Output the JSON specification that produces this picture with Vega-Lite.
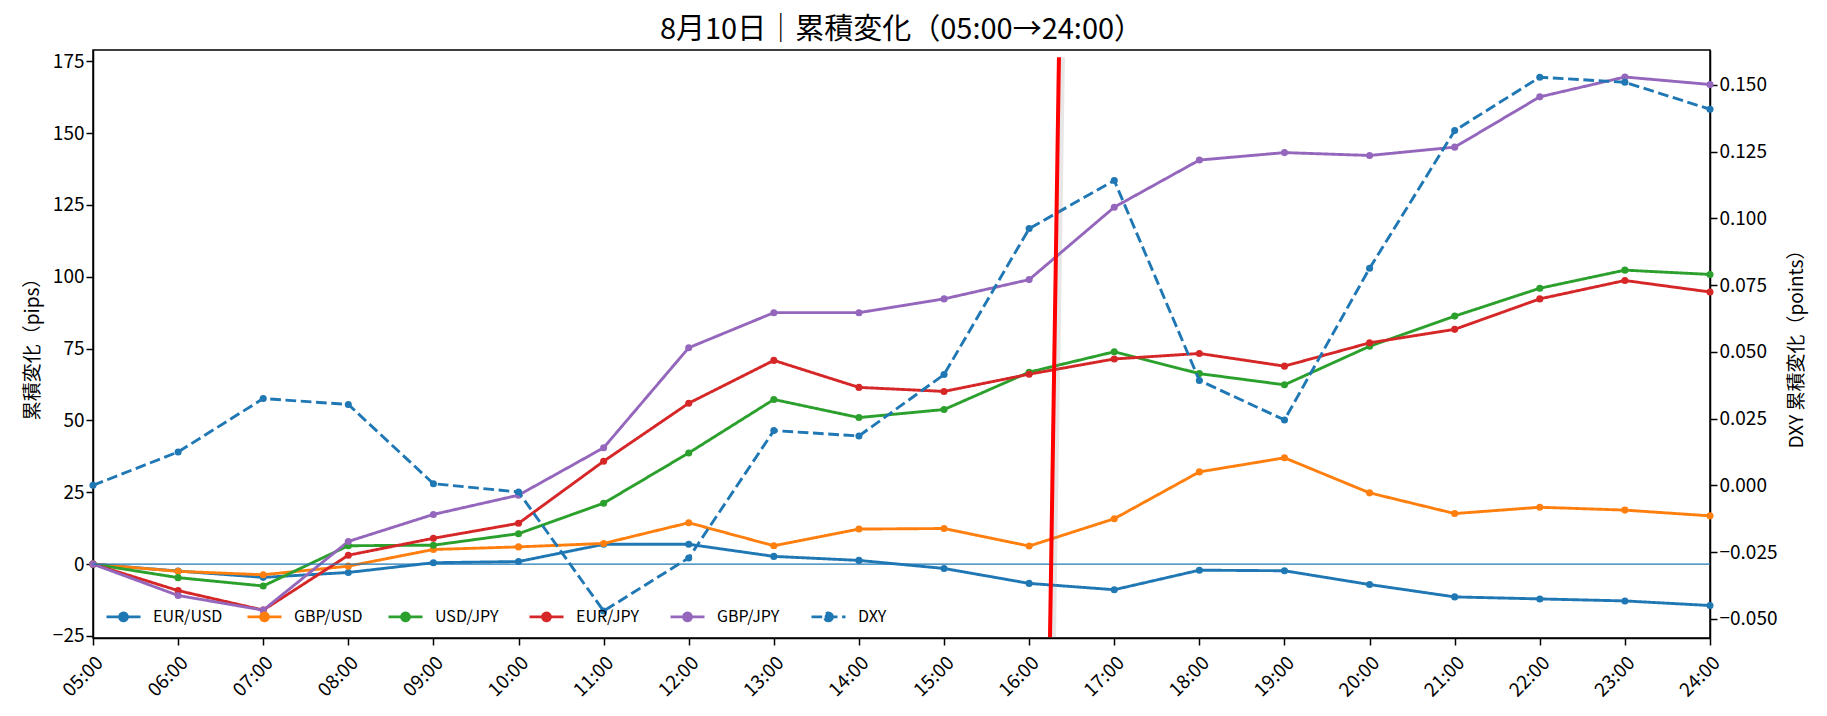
{
  "$schema": "https://vega.github.io/schema/vega-lite/v6.json",
  "autosize": {"type": "none"},
  "width": 1617,
  "height": 588,
  "padding": {"left": 93, "top": 50, "right": 117, "bottom": 78},
  "background": "white",
  "title": {"text": "8月10日｜累積変化（05:00→24:00）", "fontSize": 29, "font": "Noto Sans CJK JP", "fontWeight": "normal", "color": "black", "anchor": "middle", "offset": 5},
  "config": {
    "font": "Noto Sans CJK JP",
    "view": {"stroke": "black", "strokeWidth": 1.5},
    "axis": {"grid": false, "domainColor": "black", "domainWidth": 1.5, "tickColor": "black", "tickWidth": 1.5, "tickSize": 7, "labelFont": "Noto Sans CJK JP", "labelFontSize": 19, "labelColor": "black", "titleFont": "Noto Sans CJK JP", "titleFontSize": 19, "titleColor": "black", "titleFontWeight": "normal"},
    "legend": {"orient": "none", "legendX": 12, "legendY": 548, "direction": "horizontal", "columns": 6, "gridAlign": "all", "columnPadding": 18, "symbolType": "M-1,0H1M0.23,0A0.23,0.23,0,1,1,-0.23,0A0.23,0.23,0,1,1,0.23,0Z", "symbolSize": 1156, "symbolStrokeWidth": 2.9, "labelFont": "Noto Sans CJK JP", "labelFontSize": 16, "labelColor": "black", "labelOffset": 11}
  },
  "datasets": {
    "series": [
      {"t": 5, "s": "EUR/USD", "v": 0}, {"t": 6, "s": "EUR/USD", "v": -2.4}, {"t": 7, "s": "EUR/USD", "v": -4.6}, {"t": 8, "s": "EUR/USD", "v": -2.9}, {"t": 9, "s": "EUR/USD", "v": 0.5}, {"t": 10, "s": "EUR/USD", "v": 0.9}, {"t": 11, "s": "EUR/USD", "v": 6.9}, {"t": 12, "s": "EUR/USD", "v": 6.9}, {"t": 13, "s": "EUR/USD", "v": 2.7}, {"t": 14, "s": "EUR/USD", "v": 1.3}, {"t": 15, "s": "EUR/USD", "v": -1.5}, {"t": 16, "s": "EUR/USD", "v": -6.7}, {"t": 17, "s": "EUR/USD", "v": -8.9}, {"t": 18, "s": "EUR/USD", "v": -2.1}, {"t": 19, "s": "EUR/USD", "v": -2.3}, {"t": 20, "s": "EUR/USD", "v": -7.1}, {"t": 21, "s": "EUR/USD", "v": -11.4}, {"t": 22, "s": "EUR/USD", "v": -12.1}, {"t": 23, "s": "EUR/USD", "v": -12.8}, {"t": 24, "s": "EUR/USD", "v": -14.4},
      {"t": 5, "s": "GBP/USD", "v": 0}, {"t": 6, "s": "GBP/USD", "v": -2.5}, {"t": 7, "s": "GBP/USD", "v": -3.7}, {"t": 8, "s": "GBP/USD", "v": -0.7}, {"t": 9, "s": "GBP/USD", "v": 5.1}, {"t": 10, "s": "GBP/USD", "v": 6.0}, {"t": 11, "s": "GBP/USD", "v": 7.2}, {"t": 12, "s": "GBP/USD", "v": 14.4}, {"t": 13, "s": "GBP/USD", "v": 6.4}, {"t": 14, "s": "GBP/USD", "v": 12.2}, {"t": 15, "s": "GBP/USD", "v": 12.4}, {"t": 16, "s": "GBP/USD", "v": 6.3}, {"t": 17, "s": "GBP/USD", "v": 15.8}, {"t": 18, "s": "GBP/USD", "v": 32.1}, {"t": 19, "s": "GBP/USD", "v": 37.0}, {"t": 20, "s": "GBP/USD", "v": 24.8}, {"t": 21, "s": "GBP/USD", "v": 17.6}, {"t": 22, "s": "GBP/USD", "v": 19.8}, {"t": 23, "s": "GBP/USD", "v": 18.8}, {"t": 24, "s": "GBP/USD", "v": 16.8},
      {"t": 5, "s": "USD/JPY", "v": 0}, {"t": 6, "s": "USD/JPY", "v": -4.7}, {"t": 7, "s": "USD/JPY", "v": -7.6}, {"t": 8, "s": "USD/JPY", "v": 6.4}, {"t": 9, "s": "USD/JPY", "v": 6.6}, {"t": 10, "s": "USD/JPY", "v": 10.6}, {"t": 11, "s": "USD/JPY", "v": 21.2}, {"t": 12, "s": "USD/JPY", "v": 38.7}, {"t": 13, "s": "USD/JPY", "v": 57.3}, {"t": 14, "s": "USD/JPY", "v": 51.0}, {"t": 15, "s": "USD/JPY", "v": 53.8}, {"t": 16, "s": "USD/JPY", "v": 66.8}, {"t": 17, "s": "USD/JPY", "v": 73.9}, {"t": 18, "s": "USD/JPY", "v": 66.3}, {"t": 19, "s": "USD/JPY", "v": 62.4}, {"t": 20, "s": "USD/JPY", "v": 75.8}, {"t": 21, "s": "USD/JPY", "v": 86.3}, {"t": 22, "s": "USD/JPY", "v": 96.0}, {"t": 23, "s": "USD/JPY", "v": 102.3}, {"t": 24, "s": "USD/JPY", "v": 100.8},
      {"t": 5, "s": "EUR/JPY", "v": 0}, {"t": 6, "s": "EUR/JPY", "v": -9.2}, {"t": 7, "s": "EUR/JPY", "v": -16.0}, {"t": 8, "s": "EUR/JPY", "v": 3.1}, {"t": 9, "s": "EUR/JPY", "v": 9.0}, {"t": 10, "s": "EUR/JPY", "v": 14.2}, {"t": 11, "s": "EUR/JPY", "v": 35.8}, {"t": 12, "s": "EUR/JPY", "v": 56.0}, {"t": 13, "s": "EUR/JPY", "v": 70.9}, {"t": 14, "s": "EUR/JPY", "v": 61.5}, {"t": 15, "s": "EUR/JPY", "v": 60.1}, {"t": 16, "s": "EUR/JPY", "v": 66.1}, {"t": 17, "s": "EUR/JPY", "v": 71.4}, {"t": 18, "s": "EUR/JPY", "v": 73.3}, {"t": 19, "s": "EUR/JPY", "v": 68.9}, {"t": 20, "s": "EUR/JPY", "v": 77.0}, {"t": 21, "s": "EUR/JPY", "v": 81.7}, {"t": 22, "s": "EUR/JPY", "v": 92.3}, {"t": 23, "s": "EUR/JPY", "v": 98.7}, {"t": 24, "s": "EUR/JPY", "v": 94.7},
      {"t": 5, "s": "GBP/JPY", "v": 0}, {"t": 6, "s": "GBP/JPY", "v": -10.9}, {"t": 7, "s": "GBP/JPY", "v": -16.0}, {"t": 8, "s": "GBP/JPY", "v": 7.9}, {"t": 9, "s": "GBP/JPY", "v": 17.3}, {"t": 10, "s": "GBP/JPY", "v": 24.0}, {"t": 11, "s": "GBP/JPY", "v": 40.5}, {"t": 12, "s": "GBP/JPY", "v": 75.3}, {"t": 13, "s": "GBP/JPY", "v": 87.5}, {"t": 14, "s": "GBP/JPY", "v": 87.5}, {"t": 15, "s": "GBP/JPY", "v": 92.3}, {"t": 16, "s": "GBP/JPY", "v": 99.0}, {"t": 17, "s": "GBP/JPY", "v": 124.2}, {"t": 18, "s": "GBP/JPY", "v": 140.6}, {"t": 19, "s": "GBP/JPY", "v": 143.2}, {"t": 20, "s": "GBP/JPY", "v": 142.2}, {"t": 21, "s": "GBP/JPY", "v": 145.1}, {"t": 22, "s": "GBP/JPY", "v": 162.6}, {"t": 23, "s": "GBP/JPY", "v": 169.5}, {"t": 24, "s": "GBP/JPY", "v": 166.9},
      {"t": 5, "s": "DXY", "v": 0}, {"t": 6, "s": "DXY", "v": 0.0125}, {"t": 7, "s": "DXY", "v": 0.0325}, {"t": 8, "s": "DXY", "v": 0.0303}, {"t": 9, "s": "DXY", "v": 0.0006}, {"t": 10, "s": "DXY", "v": -0.0025}, {"t": 11, "s": "DXY", "v": -0.0471}, {"t": 12, "s": "DXY", "v": -0.0272}, {"t": 13, "s": "DXY", "v": 0.0205}, {"t": 14, "s": "DXY", "v": 0.0185}, {"t": 15, "s": "DXY", "v": 0.0415}, {"t": 16, "s": "DXY", "v": 0.0962}, {"t": 17, "s": "DXY", "v": 0.1142}, {"t": 18, "s": "DXY", "v": 0.0393}, {"t": 19, "s": "DXY", "v": 0.0245}, {"t": 20, "s": "DXY", "v": 0.0813}, {"t": 21, "s": "DXY", "v": 0.1329}, {"t": 22, "s": "DXY", "v": 0.1529}, {"t": 23, "s": "DXY", "v": 0.1510}, {"t": 24, "s": "DXY", "v": 0.1409}
    ],
    "zero": [{"y": 0}],
    "marker": [{"xa": 16.35, "xb": 16.245, "ya": 176.4, "yb": -25.4, "xsa": 16.385, "xsb": 16.28}]
  },
  "layer": [
    {
      "layer": [
        {
          "data": {"name": "series"},
          "transform": [{"filter": "datum.s !== 'DXY'"}],
          "mark": {"type": "line", "strokeWidth": 2.9, "point": {"filled": true, "size": 50}},
          "encoding": {
            "x": {"field": "t", "type": "quantitative", "scale": {"domain": [5, 24], "nice": false, "zero": false}, "axis": {"values": [5, 6, 7, 8, 9, 10, 11, 12, 13, 14, 15, 16, 17, 18, 19, 20, 21, 22, 23, 24], "labelExpr": "(datum.value < 10 ? '0' : '') + datum.value + ':00'", "labelAngle": -45, "labelAlign": "right", "labelBaseline": "top", "labelPadding": 8, "title": null}},
            "y": {"field": "v", "type": "quantitative", "scale": {"domain": [-25.7, 178.9], "nice": false, "zero": false}, "axis": {"orient": "left", "values": [-25, 0, 25, 50, 75, 100, 125, 150, 175], "title": "累積変化（pips）", "titlePadding": 10}},
            "color": {"field": "s", "type": "nominal", "scale": {"domain": ["EUR/USD", "GBP/USD", "USD/JPY", "EUR/JPY", "GBP/JPY", "DXY"], "range": ["#1f77b4", "#ff7f0e", "#2ca02c", "#d62728", "#9467bd", "#1f77b4"]}, "legend": {"title": null, "encode": {"symbols": {"update": {"fill": {"scale": "color", "field": "value"}}}}}},
            "strokeDash": {"field": "s", "type": "nominal", "scale": {"domain": ["EUR/USD", "GBP/USD", "USD/JPY", "EUR/JPY", "GBP/JPY", "DXY"], "range": [[1, 0], [1, 0], [1, 0], [1, 0], [1, 0], [10.7, 4.6]]}, "legend": {"title": null}},
            "order": {"field": "t", "type": "quantitative"}
          }
        },
        {
          "data": {"name": "zero"},
          "mark": {"type": "rule", "color": "#1f77b4", "strokeWidth": 1.3},
          "encoding": {"y": {"field": "y", "type": "quantitative"}}
        }
      ]
    },
    {
      "data": {"name": "series"},
      "transform": [{"filter": "datum.s === 'DXY'"}],
      "mark": {"type": "line", "strokeWidth": 2.9, "point": {"filled": true, "size": 50}},
      "encoding": {
        "x": {"field": "t", "type": "quantitative"},
        "y": {"field": "v", "type": "quantitative", "scale": {"domain": [-0.0572, 0.1631], "nice": false, "zero": false}, "axis": {"orient": "right", "values": [-0.05, -0.025, 0, 0.025, 0.05, 0.075, 0.1, 0.125, 0.15], "format": ".3f", "title": "DXY 累積変化（points）", "titleAngle": -90, "titleBaseline": "top", "titlePadding": 10}},
        "color": {"field": "s", "type": "nominal", "legend": {"title": null}},
        "strokeDash": {"field": "s", "type": "nominal", "legend": {"title": null}},
        "order": {"field": "t", "type": "quantitative"}
      }
    },
    {
      "data": {"name": "marker"},
      "layer": [
        {
          "mark": {"type": "rule", "color": "#888888", "opacity": 0.2, "strokeWidth": 6},
          "encoding": {
            "x": {"field": "xsa", "type": "quantitative"},
            "x2": {"field": "xsb"},
            "y": {"field": "ya", "type": "quantitative", "scale": {"domain": [-25.7, 178.9], "nice": false, "zero": false}, "axis": null},
            "y2": {"field": "yb"}
          }
        },
        {
          "mark": {"type": "rule", "color": "#ff0000", "strokeWidth": 4},
          "encoding": {
            "x": {"field": "xa", "type": "quantitative"},
            "x2": {"field": "xb"},
            "y": {"field": "ya", "type": "quantitative", "scale": {"domain": [-25.7, 178.9], "nice": false, "zero": false}, "axis": null},
            "y2": {"field": "yb"}
          }
        }
      ]
    }
  ],
  "resolve": {"scale": {"y": "independent"}}
}
